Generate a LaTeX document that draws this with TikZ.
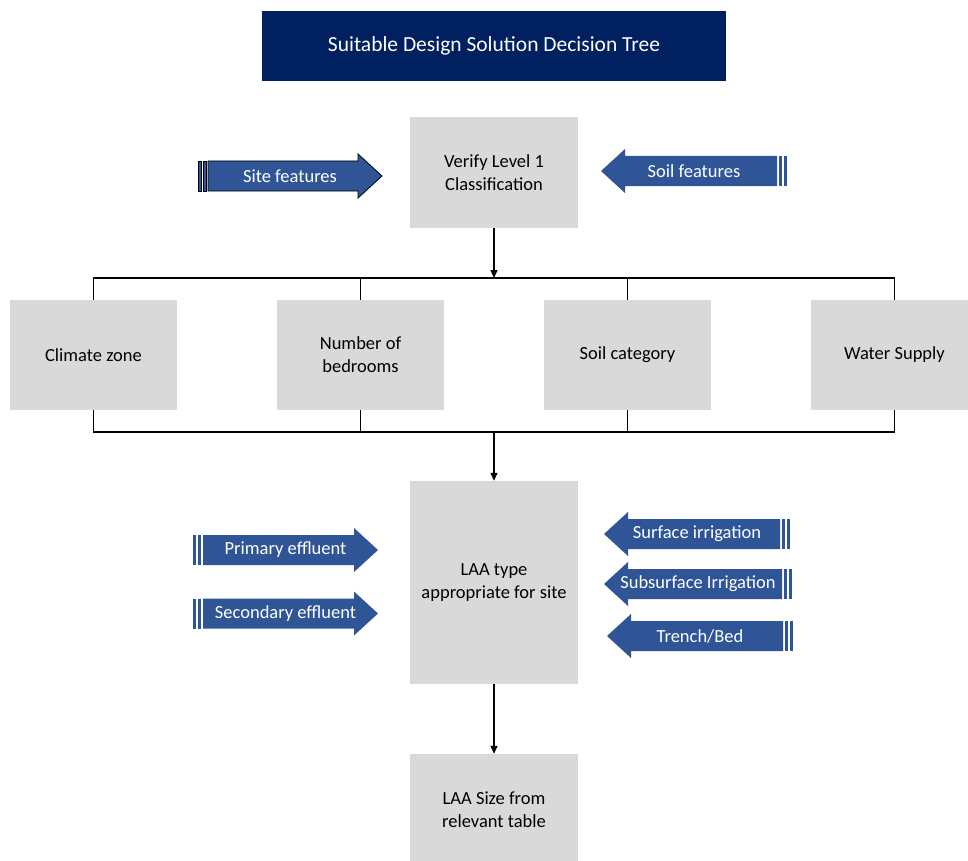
\documentclass[tikz,border=0pt]{standalone}
\usepackage{fontspec}
\setmainfont{Carlito}
\usetikzlibrary{arrows.meta}
\definecolor{navy}{HTML}{002060}
\definecolor{boxgray}{HTML}{D9D9D9}
\definecolor{arrblue}{HTML}{2F5597}
\tikzset{
  graybox/.style={rectangle, fill=boxgray, align=center, inner sep=2pt,
    font=\fontsize{18.5}{23}\selectfont},
  conn/.style={draw=black, line width=1.3pt},
  flowarrow/.style={conn, -{Triangle[length=8pt,width=7pt]}},
  arrbody/.style={fill=arrblue},
  arrlabel/.style={text=white, font=\fontsize{18.5}{22}\selectfont, inner sep=0pt}
}
% right-pointing striped arrow: #1 name, #2 tail x, #3 tip x, #4 center y, #5 text, #6 extra style
\newcommand\stripR[6]{%
  \path[arrbody,#6] (#2,#4-15) rectangle (#2+3,#4+15);
  \path[arrbody,#6] (#2+5,#4-15) rectangle (#2+8,#4+15);
  \path[arrbody,#6] (#2+10,#4-15) -- (#3-24,#4-15) -- (#3-24,#4-22) -- (#3,#4)
     -- (#3-24,#4+22) -- (#3-24,#4+15) -- (#2+10,#4+15) -- cycle;
  \node[arrlabel] (#1) at ({(#2+#3)/2},#4) {#5};
}
% left-pointing striped arrow: #1 name, #2 tip x, #3 tail x, #4 center y, #5 text
\newcommand\stripL[6]{%
  \path[arrbody,#6] (#3,#4-15) rectangle (#3-3,#4+15);
  \path[arrbody,#6] (#3-5,#4-15) rectangle (#3-8,#4+15);
  \path[arrbody,#6] (#3-10,#4-15) -- (#2+24,#4-15) -- (#2+24,#4-22) -- (#2,#4)
     -- (#2+24,#4+22) -- (#2+24,#4+15) -- (#3-10,#4+15) -- cycle;
  \node[arrlabel] (#1) at ({(#2+#3)/2},#4) {#5};
}
\begin{document}
\begin{tikzpicture}[x=1pt,y=-1pt]
\useasboundingbox (0,0) rectangle (968,861);
\fill[white] (0,0) rectangle (968,861);

% title
\node[rectangle, fill=navy, text=white, minimum width=464pt, minimum height=70pt,
  font=\fontsize{21.5}{26}\selectfont] (title) at (494,46) {Suitable Design Solution Decision Tree};

% main boxes
\node[graybox, minimum width=168pt, minimum height=111pt] (verify) at (494,172.5) {Verify Level 1\\Classification};
\node[graybox, minimum width=167pt, minimum height=110pt] (climate) at (93.5,355) {Climate zone};
\node[graybox, minimum width=167pt, minimum height=110pt] (bedrooms) at (360.5,355) {Number of\\bedrooms};
\node[graybox, minimum width=167pt, minimum height=110pt] (soilcat) at (627.5,355) {Soil category};
\node[graybox, minimum width=167pt, minimum height=110pt] (water) at (894.5,355) {Water Supply};
\node[graybox, minimum width=168pt, minimum height=203pt] (laatype) at (494,582.5) {LAA type\\appropriate for site};
\node[graybox, minimum width=168pt, minimum height=112pt] (laasize) at (494,810) {LAA Size from\\relevant table};

% bus coordinates
\coordinate (tb) at (494,278);
\coordinate (bb) at (494,432);

% top bus
\draw[flowarrow] (verify.south) -- (tb);
\draw[conn] (climate.north) -- (climate.north |- tb) -- (water.north |- tb) -- (water.north);
\draw[conn] (bedrooms.north) -- (bedrooms.north |- tb);
\draw[conn] (soilcat.north) -- (soilcat.north |- tb);

% bottom bus
\draw[conn] (climate.south) -- (climate.south |- bb) -- (water.south |- bb) -- (water.south);
\draw[conn] (bedrooms.south) -- (bedrooms.south |- bb);
\draw[conn] (soilcat.south) -- (soilcat.south |- bb);
\draw[flowarrow] (bb) -- (laatype.north);

\draw[flowarrow] (laatype.south) -- (laasize.north);

% side arrows
\stripR{site}{198}{382}{176}{Site features}{draw=black, line width=0.8pt}
\stripL{soil}{601}{787}{171}{Soil features}{}
\stripR{primary}{193}{378}{550}{Primary effluent}{}
\stripR{secondary}{193}{378}{613.5}{Secondary effluent}{}
\stripL{surface}{604}{790}{534}{Surface irrigation}{}
\stripL{subsurface}{604}{792}{584}{Subsurface Irrigation}{}
\stripL{trench}{607}{793}{636}{Trench/Bed}{}
\end{tikzpicture}
\end{document}
